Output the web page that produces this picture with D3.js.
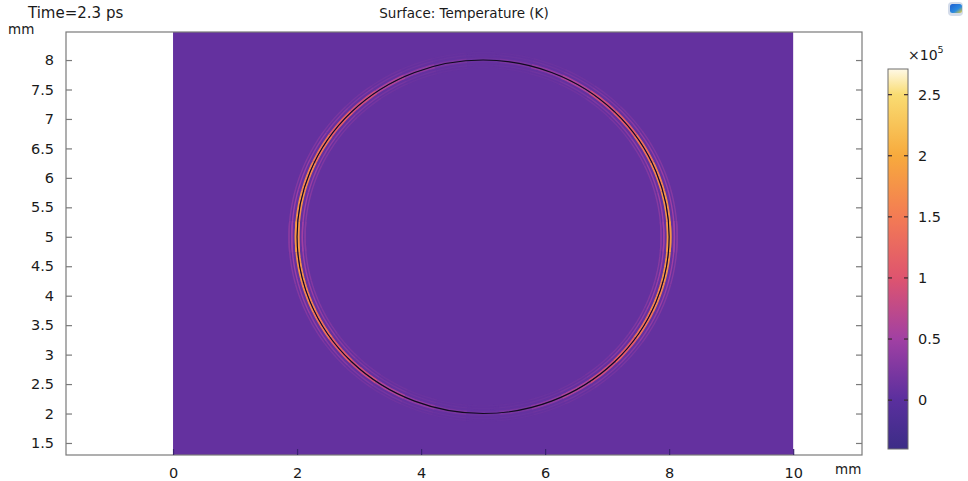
<!DOCTYPE html>
<html>
<head>
<meta charset="utf-8">
<script src="https://cdn.jsdelivr.net/npm/d3@7"></script>
<style>
  body { margin: 0; background: #fff; }
  svg { display: block; font-family: "DejaVu Sans", sans-serif; }
</style>
</head>
<body>
<div id="chart"></div>
<script>
const xTicks = [0, 2, 4, 6, 8, 10];
const yTicks = [1.5, 2, 2.5, 3, 3.5, 4, 4.5, 5, 5.5, 6, 6.5, 7, 7.5, 8];
const cbTicks = [0, 0.5, 1, 1.5, 2, 2.5];

const xView = [-1.726, 11.11];
const yView = [1.296, 8.476];
const domainX = [0, 10];
const domainY = [0, 10];

const circleCenter = [5, 5];
const circleRadius = 3;

// temperature (x1e5 K)
const backgroundValue = 0.07;
const tempRange = [-0.4, 2.71];
const stopValues = [-0.4, 0, 0.5, 1, 1.5, 2, 2.5, 2.71];
const stopColors = ["#3c2d86", "#5a2f9e", "#a140a3", "#de546f", "#f37b54", "#f7aa3d", "#f9dc72", "#fff9e6"];

// ripples around the circle edge: radial offset (mm) and peak value on the x direction
const ringOffsets = [-0.13, -0.085, -0.022, 0.022, 0.085, 0.13];
const ringPeaks = [0.33, 0.5, 1.8, 1.8, 0.5, 0.33];

// how strong the ring is, by angle from the x axis
const ringAngles = [0, 10, 20, 30, 40, 50, 60, 70, 80, 90];
const ringWeights = [1, 0.96, 0.88, 0.76, 0.6, 0.45, 0.3, 0.17, 0.08, 0.03];

////////////////////////////////////////////////////////////////////////////////////

const width = 968;
const height = 481;
const plot = { left: 66, right: 862, top: 32, bottom: 455 };

const svg = d3.select("#chart").append("svg").attr("width", width).attr("height", height);

const x = d3.scaleLinear().domain(xView).range([plot.left, plot.right]);
const y = d3.scaleLinear().domain(yView).range([plot.bottom, plot.top]);
const color = d3.scaleLinear().domain(stopValues).range(stopColors).interpolate(d3.interpolateRgb);

svg.append("clipPath").attr("id", "plot-clip")
  .append("rect")
  .attr("x", plot.left).attr("y", plot.top)
  .attr("width", plot.right - plot.left).attr("height", plot.bottom - plot.top);

const field = svg.append("g").attr("clip-path", "url(#plot-clip)");

field.append("rect")
  .attr("x", x(domainX[0]))
  .attr("y", y(domainY[1]))
  .attr("width", x(domainX[1]) - x(domainX[0]))
  .attr("height", y(domainY[0]) - y(domainY[1]))
  .attr("fill", color(backgroundValue));

////////////////////////////////////////////////////////////////////////////////////

const arcLine = d3.line().x((d) => x(d[0])).y((d) => y(d[1]));

function arcPoints(r, a0, a1) {
  const pts = [];
  for (let i = 0; i <= 6; i++) {
    const a = ((a0 + (a1 - a0) * i / 6) * Math.PI) / 180;
    pts.push([circleCenter[0] + r * Math.cos(a), circleCenter[1] + r * Math.sin(a)]);
  }
  return pts;
}

const step = ringAngles[1] - ringAngles[0];
const segments = [];
ringOffsets.forEach((off, ri) => {
  for (let q = 0; q < 4; q++) {
    ringAngles.forEach((a, ai) => {
      const base = q * 90;
      const ang = q % 2 === 0 ? base + a : base + 90 - a;
      const v = backgroundValue + ringWeights[ai] * (ringPeaks[ri] - backgroundValue);
      segments.push({ r: circleRadius + off, a0: ang - step / 2, a1: ang + step / 2, v: v });
    });
  }
});

field.append("g")
  .selectAll("path")
  .data(segments)
  .enter()
  .append("path")
  .attr("d", (d) => arcLine(arcPoints(d.r, d.a0, d.a1)))
  .attr("fill", "none")
  .attr("stroke", (d) => color(d.v))
  .attr("stroke-width", (d) => (Math.abs(d.r - circleRadius) < 0.05 ? 1.9 : 1.4));

field.append("ellipse")
  .attr("cx", x(circleCenter[0]))
  .attr("cy", y(circleCenter[1]))
  .attr("rx", x(circleCenter[0] + circleRadius) - x(circleCenter[0]))
  .attr("ry", y(circleCenter[1] - circleRadius) - y(circleCenter[1]))
  .attr("fill", "none")
  .attr("stroke", "#120a1e")
  .attr("stroke-width", 1.1);

////////////////////////////////////////////////////////////////////////////////////

const axisColor = "#7a7a7a";
const labelSize = "14.5px";

svg.append("rect")
  .attr("x", plot.left).attr("y", plot.top)
  .attr("width", plot.right - plot.left).attr("height", plot.bottom - plot.top)
  .attr("fill", "none").attr("stroke", axisColor).attr("stroke-width", 1.2);

const leftAxis = svg.append("g")
  .attr("transform", `translate(${plot.left},0)`)
  .call(d3.axisLeft(y).tickValues(yTicks).tickSize(-6).tickPadding(12).tickFormat(d3.format("")));

const rightAxis = svg.append("g")
  .attr("transform", `translate(${plot.right},0)`)
  .call(d3.axisRight(y).tickValues(yTicks).tickSize(-6).tickFormat(""));

const bottomAxis = svg.append("g")
  .attr("transform", `translate(0,${plot.bottom})`)
  .call(d3.axisBottom(x).tickValues(xTicks).tickSize(-6).tickPadding(13).tickFormat(d3.format("")));

[leftAxis, rightAxis, bottomAxis].forEach((g) => {
  g.select(".domain").remove();
  g.selectAll(".tick line").attr("stroke", axisColor).attr("stroke-width", 1.2);
  g.selectAll(".tick text").attr("fill", "#1a1a1a").style("font-size", labelSize).style("font-family", "DejaVu Sans");
});
bottomAxis.selectAll(".tick line").attr("stroke", "#3a2270");

////////////////////////////////////////////////////////////////////////////////////

const cb = { x: 888, w: 20, top: 69, bottom: 449 };
const cy = d3.scaleLinear().domain(tempRange).range([cb.bottom, cb.top]);

const grad = svg.append("defs").append("linearGradient")
  .attr("id", "cb-grad")
  .attr("x1", 0).attr("y1", 1).attr("x2", 0).attr("y2", 0);

grad.selectAll("stop")
  .data(stopValues)
  .enter()
  .append("stop")
  .attr("offset", (d) => (d - tempRange[0]) / (tempRange[1] - tempRange[0]))
  .attr("stop-color", (d) => color(d));

svg.append("rect")
  .attr("x", cb.x).attr("y", cb.top)
  .attr("width", cb.w).attr("height", cb.bottom - cb.top)
  .attr("fill", "url(#cb-grad)")
  .attr("stroke", "#6e6e6e").attr("stroke-width", 1);

const cbTick = svg.append("g").selectAll("g").data(cbTicks).enter().append("g");
cbTick.append("line")
  .attr("x1", cb.x).attr("x2", cb.x + 4)
  .attr("y1", (d) => cy(d)).attr("y2", (d) => cy(d))
  .attr("stroke", "#3a2a30").attr("stroke-width", 1.2);
cbTick.append("line")
  .attr("x1", cb.x + cb.w - 4).attr("x2", cb.x + cb.w)
  .attr("y1", (d) => cy(d)).attr("y2", (d) => cy(d))
  .attr("stroke", "#3a2a30").attr("stroke-width", 1.2);
cbTick.append("text")
  .attr("x", cb.x + cb.w + 10)
  .attr("y", (d) => cy(d))
  .attr("dy", "0.35em")
  .attr("fill", "#1a1a1a")
  .style("font-size", labelSize)
  .text((d) => d);

const expo = svg.append("text")
  .attr("x", 908).attr("y", 60)
  .attr("fill", "#1a1a1a")
  .style("font-size", "14px");
expo.append("tspan").text("×10");
expo.append("tspan").attr("dy", -7).style("font-size", "9.5px").text("5");

////////////////////////////////////////////////////////////////////////////////////

svg.append("text").attr("x", 28).attr("y", 18).attr("fill", "#1a1a1a")
  .style("font-size", "15px").text("Time=2.3 ps");
svg.append("text").attr("x", 464).attr("y", 18).attr("text-anchor", "middle").attr("fill", "#1a1a1a")
  .style("font-size", "13.5px").text("Surface: Temperature (K)");
svg.append("text").attr("x", 8).attr("y", 34).attr("fill", "#1a1a1a")
  .style("font-size", "13.5px").text("mm");
svg.append("text").attr("x", 835).attr("y", 474).attr("fill", "#1a1a1a")
  .style("font-size", "13.5px").text("mm");

const iconGrad = svg.select("defs").append("linearGradient")
  .attr("id", "icon-grad").attr("x1", 0).attr("y1", 0).attr("x2", 1).attr("y2", 1);
iconGrad.append("stop").attr("offset", 0).attr("stop-color", "#1f5fd0");
iconGrad.append("stop").attr("offset", 0.6).attr("stop-color", "#2a8ae0");
iconGrad.append("stop").attr("offset", 1).attr("stop-color", "#f0d030");

svg.append("rect")
  .attr("x", 948).attr("y", 2).attr("width", 15).attr("height", 14).attr("rx", 4)
  .attr("fill", "#d4dcea");
svg.append("rect")
  .attr("x", 950).attr("y", 4).attr("width", 12).attr("height", 9).attr("rx", 2.5)
  .attr("fill", "url(#icon-grad)");
</script>
</body>
</html>
